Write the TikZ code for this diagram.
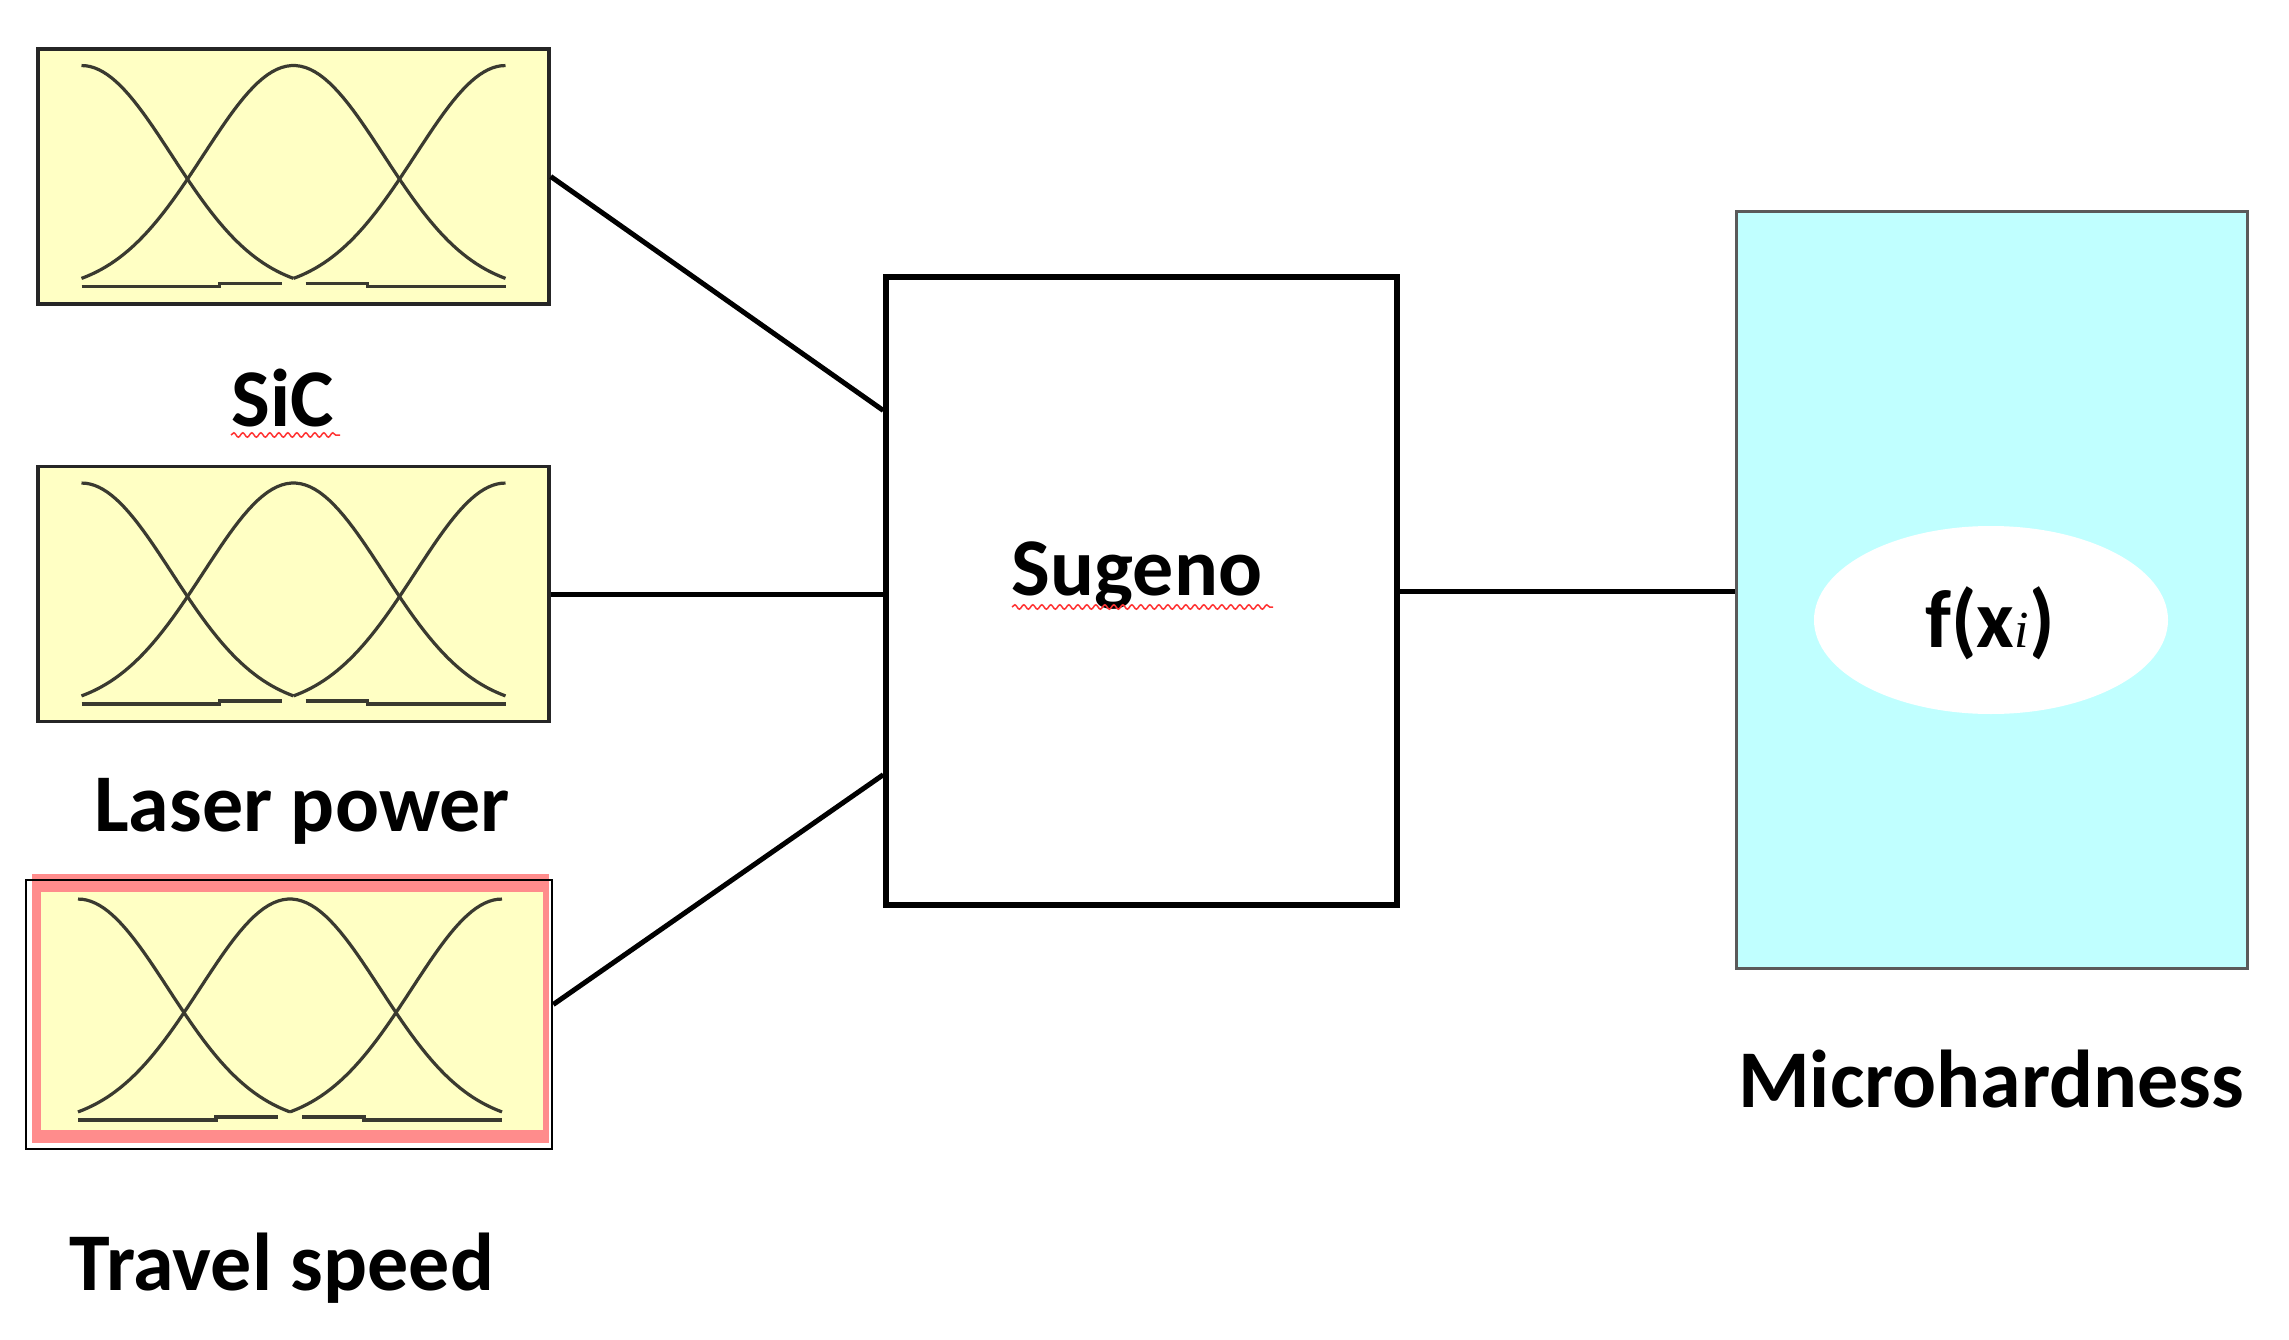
\documentclass[tikz,border=0pt]{standalone}
\usepackage{fontspec}
\setmainfont{Carlito}
\newfontfamily\ifontx{Liberation Serif}
\usetikzlibrary{calc,decorations.pathmorphing,shapes.geometric}
\definecolor{mfyellow}{HTML}{FFFFC4}
\definecolor{mfline}{HTML}{3A3A30}
\definecolor{pinkband}{HTML}{FF8C8C}
\definecolor{cyanfill}{HTML}{C0FFFF}
\definecolor{cyanedge}{HTML}{5A5A5A}
\newcommand\mfcurves[1]{%
\begin{scope}[shift={(#1)}]
\draw[mfcurve] plot[domain=-212:0,samples=50] (\x,{102-227*(exp(0-((\x+212)/100)^2/1.62)-0.062)});
\draw[mfcurve] plot[domain=-212:212,samples=90] (\x,{102-227*(exp(0-(\x/100)^2/1.62)-0.062)});
\draw[mfcurve] plot[domain=0:212,samples=50] (\x,{102-227*(exp(0-((\x-212)/100)^2/1.62)-0.062)});
\draw[mfbase] (-212,110) -- (-74,110) -- (-74,107) -- (-12,107);
\draw[mfbase] (12,107) -- (74,107) -- (74,110) -- (212,110);
\end{scope}}
\begin{document}
\begin{tikzpicture}[x=1pt,y=-1pt,
  mfbox/.style={draw=black!85,line width=3.5pt,fill=mfyellow,minimum width=511pt,minimum height=255pt,inner sep=0pt},
  tspbox/.style={draw=black,line width=2.5pt,minimum width=526pt,minimum height=269pt,inner sep=0pt},
  sugbox/.style={draw=black,line width=5.5pt,fill=white,minimum width=511pt,minimum height=628pt,inner sep=0pt},
  outbox/.style={draw=cyanedge,line width=3pt,fill=cyanfill,minimum width=511pt,minimum height=756pt,inner sep=0pt},
  mfcurve/.style={mfline,line width=3.2pt},
  mfbase/.style={mfline,line width=3.5pt},
  conn/.style={black,line width=5pt},
  lbl/.style={font=\fontsize{82}{92}\selectfont\bfseries,anchor=base,inner sep=0pt},
  squig/.style={red!80,line width=1.5pt,decorate,decoration={snake,amplitude=2.2pt,segment length=9pt}}
]
\useasboundingbox (0,0) rectangle (2289,1340);
\fill[white] (0,0) rectangle (2289,1340);
% input 1
\node[mfbox] (sic) at (293.5,176.5) {};
\mfcurves{sic.center}
\node[lbl] (sicl) at (283,426) {SiC};
\draw[squig] (231,435) -- (340,435);
% input 2
\node[mfbox] (lp) at (293.5,594) {};
\mfcurves{lp.center}
\node[lbl] (lpl) at (302,831) {Laser power};
% input 3
\fill[pinkband] (32,874) rectangle (549,1143);
\fill[mfyellow] (41,892) rectangle (543,1130);
\node[tspbox] (tsp) at (289,1014.5) {};
\coordinate (tspc) at (290,1010);
\mfcurves{tspc}
\node[lbl] (tspl) at (282,1290) {Travel speed};
% Sugeno
\node[sugbox] (sug) at (1141.5,591) {};
\node[lbl] (sugl) at (1137,595) {Sugeno};
\draw[squig] (1012,607) -- (1273,607);
% output
\node[outbox] (out) at (1991.5,590) {};
\node[ellipse,fill=white,minimum width=354pt,minimum height=188pt,inner sep=0pt] (fx) at (1991,620) {};
\node[lbl] (fxl) at (1990,647) {f(x{\mdseries\ifontx\itshape\fontsize{52}{60}\selectfont i})};
\node[lbl] (outl) at (1991,1107) {Microhardness};
% connectors
\draw[conn] (sic.east) -- ($(sug.north west)!0.215!(sug.south west)$);
\draw[conn] (lp.east) -- (lp.east -| sug.west);
\draw[conn] ([yshift=10pt]tsp.east) -- ($(sug.north west)!0.79!(sug.south west)$);
\draw[conn] (sug.east) -- (sug.east -| out.west);
\end{tikzpicture}
\end{document}
